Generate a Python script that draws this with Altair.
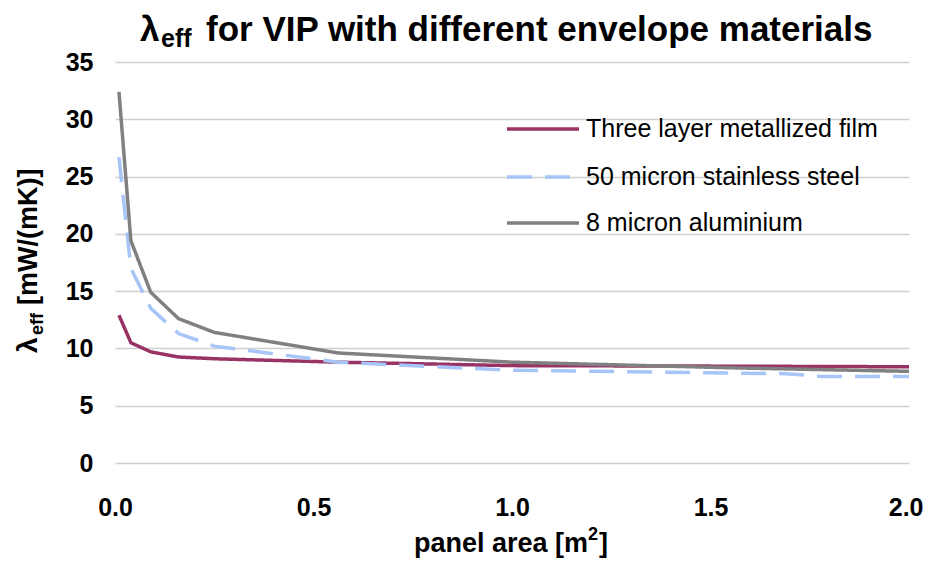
import altair as alt
import pandas as pd

# ---- data ----
series_names = ["Three layer metallized film", "50 micron stainless steel", "8 micron aluminium"]
colors = ["#993366", "#a8c5f7", "#808080"]

area_film = [0.01, 0.04, 0.09, 0.16, 0.25, 0.5625, 1.0, 1.5625, 2.0]
lam_film = [12.9, 10.5, 9.7, 9.25, 9.1, 8.8, 8.5, 8.45, 8.4]

area_steel = [0.01, 0.04, 0.09, 0.16, 0.25, 0.5625, 1.0, 1.5625, 1.69, 1.78, 2.0]
lam_steel = [26.7, 17.0, 13.5, 11.3, 10.2, 8.8, 8.1, 7.85, 7.8, 7.55, 7.55]

area_alu = [0.01, 0.04, 0.09, 0.16, 0.25, 0.5625, 1.0, 1.5625, 2.0]
lam_alu = [32.4, 19.4, 14.9, 12.6, 11.4, 9.6, 8.8, 8.3, 8.0]

x_ticks = [0.0, 0.5, 1.0, 1.5, 2.0]
y_ticks = [0, 5, 10, 15, 20, 25, 30, 35]

FONT = "Liberation Sans"
W, H = 794, 401

frames = []
for name, xs, ys in [(series_names[0], area_film, lam_film),
                     (series_names[1], area_steel, lam_steel),
                     (series_names[2], area_alu, lam_alu)]:
    frames.append(pd.DataFrame({"area": xs, "lam": ys, "series": name}))
df = pd.concat(frames, ignore_index=True)

x_enc = alt.X("area:Q", scale=alt.Scale(domain=[0, 2], nice=False),
              axis=alt.Axis(values=x_ticks, format=".1f", grid=False, domain=False, ticks=False,
                            labelFontSize=25, labelFontWeight="bold", labelFont=FONT,
                            labelColor="#000000", labelPadding=32, title=None,
                            labelFlush=False,
                            labelAlign={"condition": {"test": "datum.value >= 2", "value": "right"},
                                        "value": "center"},
                            labelOffset={"condition": {"test": "datum.value >= 2", "value": 14},
                                         "value": 0}))
y_enc = alt.Y("lam:Q", scale=alt.Scale(domain=[0, 35], nice=False),
              axis=alt.Axis(values=y_ticks, grid=True, gridColor="#d0d0d0", gridWidth=1.3,
                            domain=False, ticks=False, labelFontSize=25, labelFontWeight="bold",
                            labelFont=FONT, labelColor="#000000", labelPadding=22, title=None))

base = alt.Chart(df)
line_layers = []
dashes = [[1, 0], [25, 13], [1, 0]]
for i, name in enumerate(series_names):
    line_layers.append(
        base.transform_filter(alt.datum.series == name)
        .mark_line(color=colors[i], strokeWidth=3.5, strokeDash=dashes[i], clip=True)
        .encode(x=x_enc, y=y_enc)
    )

def txt(s, x, y, size, weight="bold", angle=0, baseline="alphabetic", align="left"):
    return alt.Chart(pd.DataFrame({"t": [s]})).mark_text(
        font=FONT, fontSize=size, fontWeight=weight, angle=angle, baseline=baseline,
        align=align, color="#000000"
    ).encode(text="t:N", x=alt.value(x), y=alt.value(y))

# title (with subscript)
title_layers = [
    txt("λ", 25, -21, 35),
    txt("eff", 46, -15, 25),
    txt("for VIP with different envelope materials", 91, -21, 35),
]

# y-axis title (rotated, with subscript)
ytitle_layers = [
    txt("λ", -78, 291, 28, angle=270),
    txt("eff", -72, 273, 18, angle=270),
    txt("[mW/(mK)]", -78, 243, 27, angle=270),
]

# x-axis title (with superscript)
xtitle_layers = [
    txt("panel area [m", 299, 490, 27),
    txt("2", 473, 478, 18),
    txt("]", 484, 490, 27),
]

# legend
legend_layers = []
leg_y = [67, 115, 161]
for i, name in enumerate(series_names):
    legend_layers.append(
        alt.Chart(pd.DataFrame({"s": [name]})).mark_rule(
            color=colors[i], strokeWidth=3.5, strokeDash=dashes[i]
        ).encode(x=alt.value(392), x2=alt.value(464), y=alt.value(leg_y[i]))
    )
    legend_layers.append(txt(name, 471, leg_y[i], 25, weight="normal", baseline="middle"))

chart = alt.layer(*line_layers, *title_layers, *ytitle_layers, *xtitle_layers, *legend_layers).properties(
    width=W, height=H,
    padding={"left": 107, "top": 54, "right": 15, "bottom": 95},
    autosize=alt.AutoSizeParams(type="none"),
    background="#ffffff",
).configure_view(stroke=None)

chart.save("out.html", embed_options={"renderer": "svg", "actions": False})
